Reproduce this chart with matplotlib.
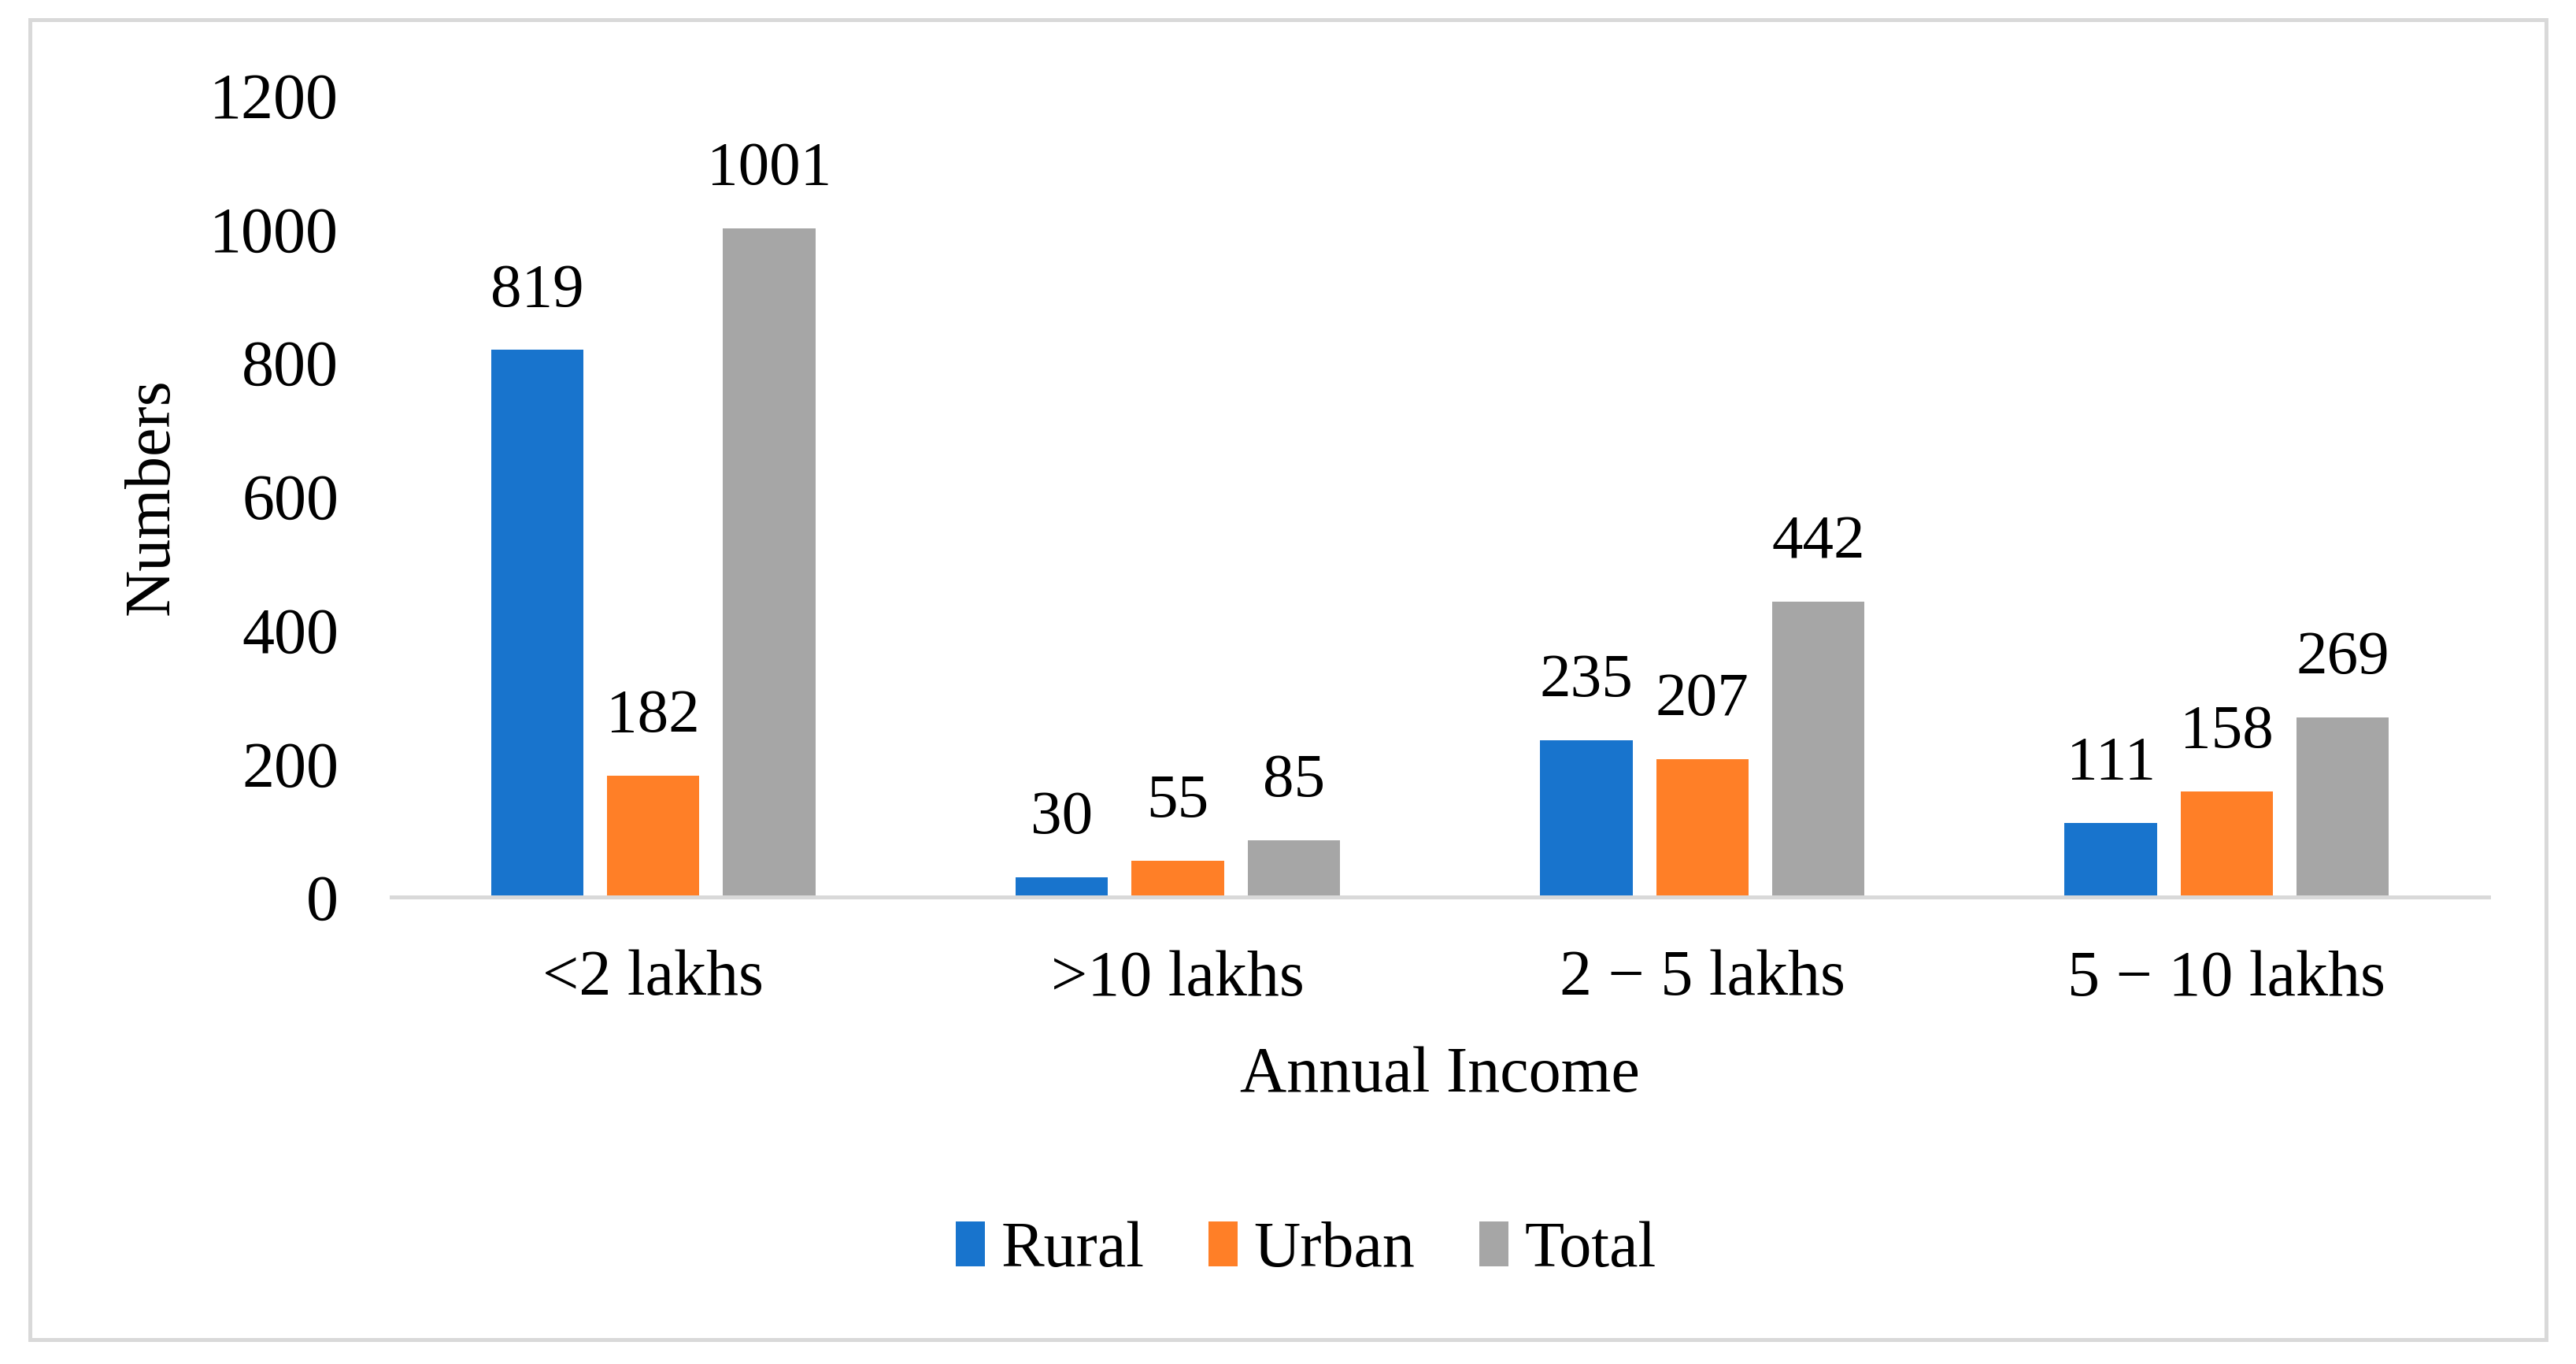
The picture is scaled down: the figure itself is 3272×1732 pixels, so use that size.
import matplotlib
matplotlib.use('Agg')
import matplotlib.pyplot as plt
import numpy as np
from matplotlib.patches import Rectangle

plt.rcParams['font.family'] = ['Liberation Serif', 'DejaVu Serif']

# data
categories = ['<2 lakhs', '>10 lakhs', '2 \u2212 5 lakhs', '5 \u2212 10 lakhs']
rural = [819, 30, 235, 111]
urban = [182, 55, 207, 158]
total = [1001, 85, 442, 269]
series_names = ['Rural', 'Urban', 'Total']
colors = ['#1874cd', '#ff7f27', '#a6a6a6']

fig = plt.figure(figsize=(32.72, 17.32), dpi=100)
ax = fig.add_axes([0.1518, 0.3422, 0.8144, 0.5879])

x = np.arange(len(categories))
width = 0.176
step = 0.221
for i, (vals, name, col) in enumerate(zip([rural, urban, total], series_names, colors)):
    bars = ax.bar(x + (i - 1) * step, vals, width, color=col, label=name, zorder=3)
    ax.bar_label(bars, padding=28, fontsize=57)

ax.set_xlim(-0.5, 3.5)
ax.set_ylim(0, 1200)
ax.set_yticks(range(0, 1201, 200))
ax.set_xticks(x)
ax.set_xticklabels(categories)
ax.tick_params(axis='both', length=0, labelsize=59)
ax.tick_params(axis='y', pad=48)
ax.tick_params(axis='x', pad=48)

for s in ['top', 'right', 'left']:
    ax.spines[s].set_visible(False)
ax.spines['bottom'].set_color('#d9d9d9')
ax.spines['bottom'].set_linewidth(3.6)
ax.spines['bottom'].set_zorder(4)

ax.set_xlabel('Annual Income', fontsize=59, va='center')
ax.xaxis.set_label_coords(0.5, -0.223)
ax.set_ylabel('Numbers', fontsize=59, va='center')
ax.yaxis.set_label_coords(-0.1135, 0.5)

fig.legend(loc='center', bbox_to_anchor=(0.507, 0.083), ncol=3, frameon=False,
           fontsize=59, handlelength=0.45, handleheight=0.7, handletextpad=0.25,
           columnspacing=1.0)

# light grey outer frame
fig.patches.append(Rectangle((0.0115, 0.018), 0.977, 0.9675, transform=fig.transFigure,
                             fill=False, edgecolor='#d9d9d9', linewidth=3.6))

fig.savefig('out.png', dpi=100)
